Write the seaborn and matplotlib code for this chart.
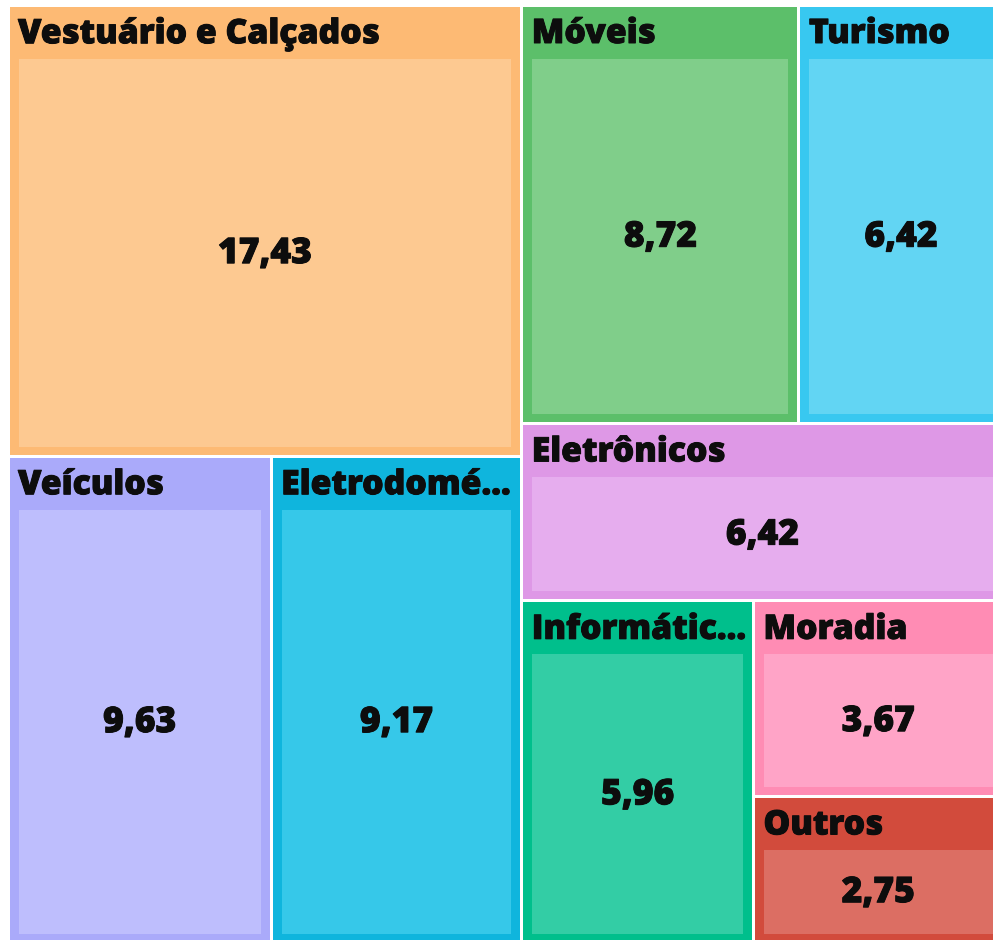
import matplotlib
matplotlib.use("Agg")
import matplotlib.pyplot as plt
from matplotlib.patches import Rectangle
import matplotlib.patheffects as pe
import seaborn as sns

# ---- data ----
labels = ["Vestuário e Calçados", "Veículos", "Eletrodomé...", "Móveis", "Turismo",
          "Eletrônicos", "Informátic...", "Moradia", "Outros"]
values = [17.43, 9.63, 9.17, 8.72, 6.42, 6.42, 5.96, 3.67, 2.75]
value_labels = ["17,43", "9,63", "9,17", "8,72", "6,42", "6,42", "5,96", "3,67", "2,75"]
outer_colors = ["#FDBA74", "#AAAAFA", "#0FB5DD", "#5CBF6A", "#38C8F0",
                "#DE98E6", "#00BF8C", "#FF8CB4", "#D24B3C"]
inner_colors = ["#FDC991", "#BEBEFD", "#36C8E9", "#80CE8A", "#62D5F3",
                "#E6ADEE", "#33CDA5", "#FFA4C7", "#DC6E63"]

sns.set_theme(style="white")
plt.rcParams["font.family"] = ["Open Sans", "DejaVu Sans"]


def binary_treemap(vals, x0, y0, x1, y1):
    """d3.treemapBinary style layout."""
    n = len(vals)
    sums = [0.0]
    for v in vals:
        sums.append(sums[-1] + v)
    rects = [None] * n

    def part(i, j, value, x0, y0, x1, y1):
        if i >= j - 1:
            rects[i] = (x0, y0, x1, y1)
            return
        off = sums[i]
        target = value / 2 + off
        k, hi = i + 1, j - 1
        while k < hi:
            mid = (k + hi) // 2
            if sums[mid] < target:
                k = mid + 1
            else:
                hi = mid
        if (target - sums[k - 1]) <= (sums[k] - target) + 1e-9 and i + 1 < k:
            k -= 1
        vl = sums[k] - off
        vr = value - vl
        if (x1 - x0) > (y1 - y0):
            xk = (x0 * vr + x1 * vl) / value
            part(i, k, vl, x0, y0, xk, y1)
            part(k, j, vr, xk, y0, x1, y1)
        else:
            yk = (y0 * vr + y1 * vl) / value
            part(i, k, vl, x0, y0, x1, yk)
            part(k, j, vr, x0, yk, x1, y1)

    part(0, n, sums[-1], x0, y0, x1, y1)
    return rects


W, H = 993, 940
fig = plt.figure(figsize=(W / 100, H / 100), dpi=100)
ax = fig.add_axes([0, 0, 1, 1])
ax.set_xlim(0, W)
ax.set_ylim(H, 0)
ax.axis("off")

rects = binary_treemap(values, 8, 5, 8 + 995, 5 + 938)
gap = 1.5
pad_l, pad_r, pad_t, pad_b = 9, 9, 52, 8
txt_color = "#0d0d0d"
heavy = [pe.Stroke(linewidth=0.7, foreground=txt_color), pe.Normal()]
for (x0, y0, x1, y1), lab, vlab, oc, ic in zip(rects, labels, value_labels, outer_colors, inner_colors):
    ox0, oy0, ox1, oy1 = x0 + gap, y0 + gap, x1 - gap, y1 - gap
    ax.add_patch(Rectangle((ox0, oy0), ox1 - ox0, oy1 - oy0, facecolor=oc, edgecolor="none"))
    ix0, iy0, ix1, iy1 = ox0 + pad_l, oy0 + pad_t, ox1 - pad_r, oy1 - pad_b
    ax.add_patch(Rectangle((ix0, iy0), ix1 - ix0, iy1 - iy0, facecolor=ic, edgecolor="none"))
    ax.text(ox0 + 8.5, oy0 + 27.5, lab, ha="left", va="center", fontsize=24.3,
            fontweight=800, color=txt_color, path_effects=heavy)
    ax.text((ix0 + ix1) / 2, (iy0 + iy1) / 2 + 1.5, vlab, ha="center", va="center",
            fontsize=25.5, fontweight=800, color=txt_color, path_effects=heavy)

fig.savefig("out.png", dpi=100, facecolor="white")
